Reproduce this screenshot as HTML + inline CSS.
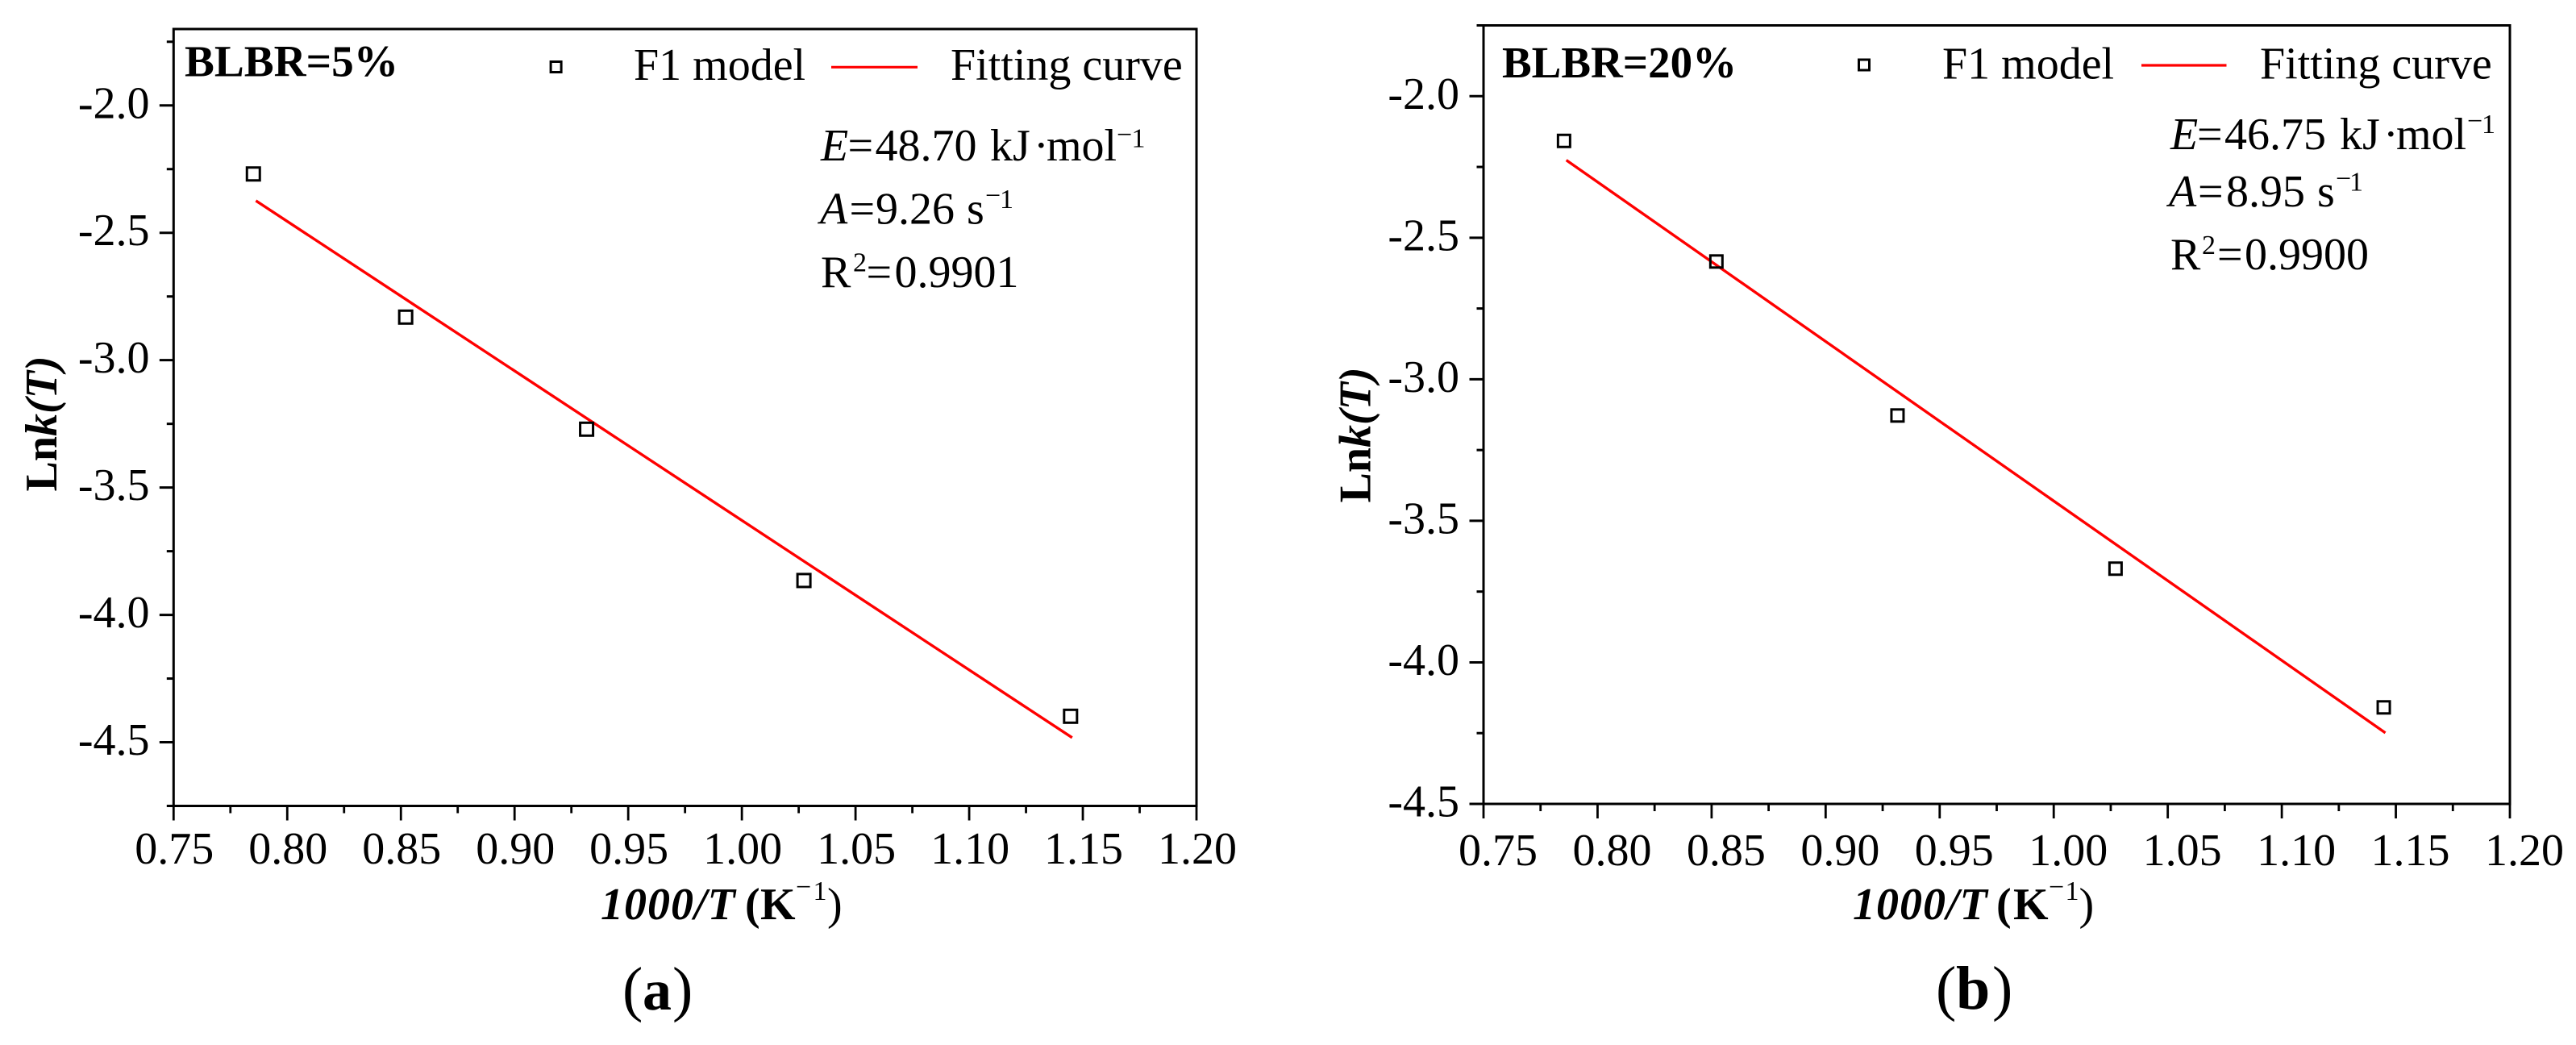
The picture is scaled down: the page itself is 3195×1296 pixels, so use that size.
<!DOCTYPE html>
<html lang="en">
<head>
<meta charset="utf-8">
<title>Lnk(T) versus 1000/T fitting charts</title>
<style>
  html, body { margin: 0; padding: 0; background: #fff; width: 3195px; height: 1296px; overflow: hidden; }
  svg { display: block; }
  text { font-family: "Liberation Serif", "Times New Roman", serif; font-size: 56px; fill: #000; }
  .b { font-weight: bold; }
  .i { font-style: italic; }
  .sup { font-size: 34px; font-weight: normal; }
  .cap { font-size: 76px; }
</style>
</head>
<body>
<svg id="figure" xmlns="http://www.w3.org/2000/svg" width="3195" height="1296" viewBox="0 0 3195 1296">
  <rect x="0" y="0" width="3195" height="1296" fill="#fff"/>

  <g id="panel-a">
    <text class="b" x="229" y="94.5" style="font-size:55.3px">BLBR=5%</text>
    <text x="786" y="99">F1 model</text>
    <text x="1179" y="99">Fitting curve</text>
    <text y="199"><tspan class="i" x="1018">E</tspan><tspan x="1051.5">=</tspan><tspan x="1085.5">48.70</tspan><tspan x="1228">kJ</tspan><tspan x="1282">·</tspan><tspan x="1298">mol</tspan><tspan class="sup" x="1385" y="178">−</tspan><tspan class="sup" x="1403.5" y="182.5">1</tspan></text>
    <text y="277.5"><tspan class="i" x="1017">A</tspan><tspan x="1053.5">=</tspan><tspan x="1086">9.26</tspan><tspan x="1199">s</tspan><tspan class="sup" x="1222" y="253.5">−</tspan><tspan class="sup" x="1240" y="258">1</tspan></text>
    <text y="356"><tspan x="1018">R</tspan><tspan class="sup" x="1058" y="336.5">2</tspan><tspan x="1074.5" y="356">=</tspan><tspan x="1109.5">0.9901</tspan></text>
    <text class="b" y="1140"><tspan class="i" x="745" style="letter-spacing:1px">1000/T</tspan><tspan x="924">(</tspan><tspan x="943">K</tspan><tspan class="sup" x="987" y="1111">−</tspan><tspan class="sup" x="1008.5" y="1116">1</tspan><tspan x="1026" y="1140" style="font-weight:normal">)</tspan></text>
    <text class="b" transform="translate(70 609.5) rotate(-90)" x="0" y="0">Ln<tspan class="i">k</tspan><tspan class="i">(T)</tspan></text>
    <text class="cap" y="1252"><tspan x="772">(</tspan><tspan class="b" x="797" style="font-size:72px">a</tspan><tspan x="834">)</tspan></text>
  </g>

  <g id="panel-b">
    <text class="b" x="1863" y="96" style="font-size:55px">BLBR=20%</text>
    <text x="2409" y="97.5">F1 model</text>
    <text x="2803" y="97.5">Fitting curve</text>
    <text y="185"><tspan class="i" x="2692">E</tspan><tspan x="2725">=</tspan><tspan x="2759">46.75</tspan><tspan x="2902">kJ</tspan><tspan x="2956">·</tspan><tspan x="2972">mol</tspan><tspan class="sup" x="3060" y="161">−</tspan><tspan class="sup" x="3078" y="165">1</tspan></text>
    <text y="256"><tspan class="i" x="2690">A</tspan><tspan x="2726">=</tspan><tspan x="2761">8.95</tspan><tspan x="2874">s</tspan><tspan class="sup" x="2897" y="232.5">−</tspan><tspan class="sup" x="2914" y="236.5">1</tspan></text>
    <text y="334"><tspan x="2692">R</tspan><tspan class="sup" x="2731" y="315">2</tspan><tspan x="2750" y="334">=</tspan><tspan x="2784">0.9900</tspan></text>
    <text class="b" y="1140"><tspan class="i" x="2298" style="letter-spacing:1px">1000/T</tspan><tspan x="2476">(</tspan><tspan x="2497">K</tspan><tspan class="sup" x="2541" y="1111">−</tspan><tspan class="sup" x="2561.5" y="1116">1</tspan><tspan x="2578.5" y="1140" style="font-weight:normal">)</tspan></text>
    <text class="b" transform="translate(1699.5 623.5) rotate(-90)" x="0" y="0">Ln<tspan class="i">k</tspan><tspan class="i">(T)</tspan></text>
    <text class="cap" y="1251"><tspan x="2401">(</tspan><tspan class="b" x="2426">b</tspan><tspan x="2471">)</tspan></text>
  </g>
</svg>

<script>
// Shared tick values
const xMajorTicks = [0.75, 0.80, 0.85, 0.90, 0.95, 1.00, 1.05, 1.10, 1.15, 1.20];
const xMinorTicks = [0.775, 0.825, 0.875, 0.925, 0.975, 1.025, 1.075, 1.125, 1.175];
const xTickLabels = ["0.75", "0.80", "0.85", "0.90", "0.95", "1.00", "1.05", "1.10", "1.15", "1.20"];

// Panel (a) data
const aYMajorTicks = [-2.0, -2.5, -3.0, -3.5, -4.0, -4.5];
const aYMinorTicks = [-1.75, -2.25, -2.75, -3.25, -3.75, -4.25, -4.75];
const aYTickLabels = ["-2.0", "-2.5", "-3.0", "-3.5", "-4.0", "-4.5"];
const aPointX = [0.7851, 0.8521, 0.9317, 1.0273, 1.1446];
const aPointY = [-2.269, -2.831, -3.271, -3.865, -4.398];
const aFitX = [0.7862, 1.1453];
const aFitY = [-2.374, -4.482];

// Panel (b) data
const bYMajorTicks = [-2.0, -2.5, -3.0, -3.5, -4.0, -4.5];
const bYMinorTicks = [-1.75, -2.25, -2.75, -3.25, -3.75, -4.25];
const bYTickLabels = ["-2.0", "-2.5", "-3.0", "-3.5", "-4.0", "-4.5"];
const bPointX = [0.7853, 0.8521, 0.9315, 1.0271, 1.1447];
const bPointY = [-2.158, -2.584, -3.128, -3.669, -4.159];
const bFitX = [0.7863, 1.1454];
const bFitY = [-2.226, -4.249];

const SVG_NS = 'http://www.w3.org/2000/svg';

function make(tag, parent, attrs) {
  const el = document.createElementNS(SVG_NS, tag);
  for (const k in attrs) el.setAttribute(k, attrs[k]);
  parent.appendChild(el);
  return el;
}

function linear(d0, d1, r0, r1) {
  return function (v) { return r0 + (v - d0) * (r1 - r0) / (d1 - d0); };
}

function drawPanel(group, box, yMajor, yMinor, yLabels, px, py, fx, fy, legend, prefix) {
  const x = linear(box.xMin, box.xMax, box.left, box.right);
  const y = linear(box.yMin, box.yMax, box.bottom, box.top);

  const frame = make('rect', group, { x: box.left, y: box.top, width: box.right - box.left, height: box.bottom - box.top, fill: 'none', stroke: '#000', 'stroke-width': 3 });
  
  

  xMajorTicks.forEach(function (v, i) {
    const t = make('line', group, { x1: x(v), x2: x(v), y1: box.bottom, y2: box.bottom + 18, stroke: '#000', 'stroke-width': 2.8 });
    
    
    const l = make('text', group, { x: x(v) + box.xLabelShift, y: box.xLabelY, 'text-anchor': 'middle' });
    l.textContent = xTickLabels[i];
    
    
  });
  xMinorTicks.forEach(function (v) {
    const t = make('line', group, { x1: x(v), x2: x(v), y1: box.bottom, y2: box.bottom + 9, stroke: '#000', 'stroke-width': 2.8 });
    
    
  });
  yMajor.forEach(function (v, i) {
    const t = make('line', group, { x1: box.left - 17.5, x2: box.left, y1: y(v), y2: y(v), stroke: '#000', 'stroke-width': 3 });
    
    
    const l = make('text', group, { x: box.yLabelX, y: y(v) + 15.5, 'text-anchor': 'end' });
    l.textContent = yLabels[i];
    
    
  });
  yMinor.forEach(function (v) {
    const t = make('line', group, { x1: box.left - 8.5, x2: box.left, y1: y(v), y2: y(v), stroke: '#000', 'stroke-width': 3 });
    
    
  });

  const pts = fx.map(function (v, i) { return x(v) + ',' + y(fy[i]); }).join(' ');
  const fit = make('polyline', group, { points: pts, fill: 'none', stroke: '#ff0000', 'stroke-width': 3.4 });
  
  

  px.forEach(function (v, i) {
    const half = box.pointSize / 2;
    const s = make('rect', group, { x: x(v) - half, y: y(py[i]) - half, width: box.pointSize, height: box.pointSize, fill: 'none', stroke: '#000', 'stroke-width': 3 });
    
    
  });

  const ls = make('rect', group, { x: legend.markX - 6.5, y: legend.markY - 6.5, width: 13, height: 13, fill: 'none', stroke: '#000', 'stroke-width': 3 });
  
  
  const ll = make('line', group, { x1: legend.lineX1, x2: legend.lineX2, y1: legend.lineY, y2: legend.lineY, stroke: '#ff0000', 'stroke-width': 3.2 });
  
  
}

drawPanel(document.getElementById('panel-a'),
  { left: 215.3, right: 1484, top: 36, bottom: 999.5, xMin: 0.75, xMax: 1.20, yMin: -4.75, yMax: -1.7, xLabelY: 1071, xLabelShift: 1, yLabelX: 185.5, pointSize: 16 },
  aYMajorTicks, aYMinorTicks, aYTickLabels, aPointX, aPointY, aFitX, aFitY,
  { markX: 689.6, markY: 83, lineX1: 1031, lineX2: 1138, lineY: 83.3 }, 'panel-a');

drawPanel(document.getElementById('panel-b'),
  { left: 1840, right: 3113, top: 31.5, bottom: 997, xMin: 0.75, xMax: 1.20, yMin: -4.5, yMax: -1.75, xLabelY: 1073, xLabelShift: 18, yLabelX: 1810, pointSize: 15 },
  bYMajorTicks, bYMinorTicks, bYTickLabels, bPointX, bPointY, bFitX, bFitY,
  { markX: 2312, markY: 80.5, lineX1: 2656, lineX2: 2761.5, lineY: 81 }, 'panel-b');
</script>
</body>
</html>
